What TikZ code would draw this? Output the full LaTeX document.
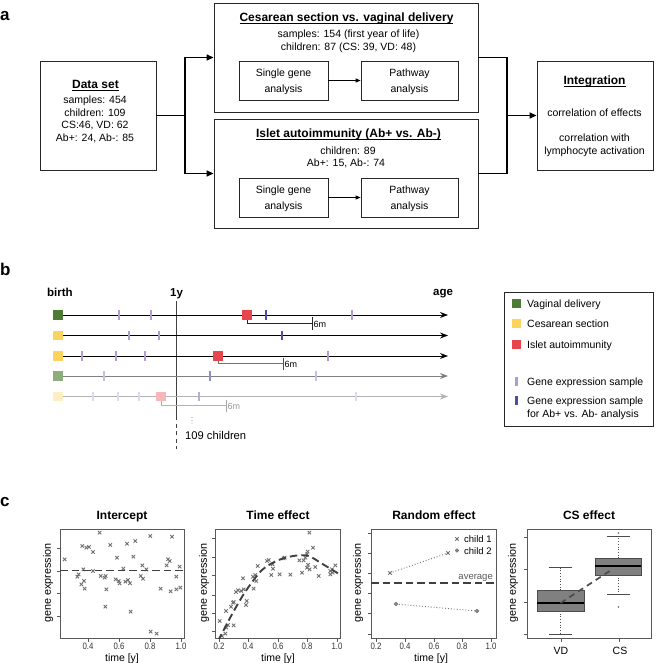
\documentclass[tikz,border=0pt]{standalone}
\usepackage{fontspec}
\setmainfont{Liberation Sans}
\usetikzlibrary{arrows.meta,shadows}
\newcommand\fsz[1]{\fontsize{#1pt}{#1pt}\selectfont}
\newcommand\ulx[1]{{\setbox0\hbox{#1}\rlap{\rule[-2.2pt]{\wd0}{0.8pt}}\box0}}
\definecolor{vdgreen}{HTML}{4D7C34}
\definecolor{csyellow}{HTML}{FDD35E}
\definecolor{iared}{HTML}{E8454A}
\definecolor{gpurple}{HTML}{B19CD1}
\definecolor{gblue}{HTML}{4A4FA0}
\definecolor{lgreen}{HTML}{8DAE7B}
\definecolor{lpurple}{HTML}{CBBDE0}
\definecolor{lblue}{HTML}{8C8FC8}
\definecolor{vlyellow}{HTML}{FDEFC2}
\definecolor{vlpink}{HTML}{F5B7B9}
\definecolor{vlpurple}{HTML}{E0D8EE}
\definecolor{vlblue}{HTML}{B0B2DC}
\definecolor{ptgray}{HTML}{707070}
\tikzset{
  bx/.style={draw=black!85, line width=0.9pt, fill=white, inner sep=0pt,
    drop shadow={shadow xshift=1.4pt, shadow yshift=-1.4pt, opacity=0.35}},
  ibx/.style={draw=black!85, line width=0.8pt, fill=white, inner sep=0pt},
  tx/.style={anchor=base, inner sep=0pt, font=\fsz{10.5}},
  txl/.style={tx, anchor=base west},
  ttl/.style={tx, font=\fsz{12}\bfseries},
  plab/.style={anchor=base west, inner sep=0pt, font=\fsz{17}\bfseries},
  conn/.style={line width=1.4pt, -{Triangle[length=7pt,width=6pt]}},
  cline/.style={line width=1.4pt},
  iconn/.style={line width=0.8pt, -{Triangle[length=5pt,width=4pt]}},
  sq/.style={minimum size=9.5pt, inner sep=0pt, draw=none},
  tk/.style={minimum width=2.8pt, minimum height=9.5pt, inner sep=0pt, draw=none},
  rowline/.style={line width=0.9pt, -{Stealth[length=8pt,width=6pt]}},
  brk/.style={line width=0.8pt},
  axbox/.style={draw=black!65, line width=0.8pt},
  axtk/.style={draw=black!65, line width=0.7pt},
  xm/.style={draw=ptgray, line width=0.9pt},
  dsh/.style={draw=black!75, line width=1.9pt, dash pattern=on 7.5pt off 4pt},
  tick8/.style={anchor=base, inner sep=0pt, font=\fsz{9.3}, xscale=0.84, text=black!80},
  xlab/.style={anchor=base, inner sep=0pt, font=\fsz{10.5}},
  ylab/.style={rotate=90, inner sep=0pt, font=\fsz{10.8}},
  ctitle/.style={anchor=base, inner sep=0pt, font=\fsz{12}\bfseries},
}
\begin{document}
\begin{tikzpicture}[x=1pt,y=-1pt]
\useasboundingbox (0,0) rectangle (658,663);
\fill[white] (0,0) rectangle (658,663);

% ================= panel a =================
\node[plab] (la) at (0,21) {a};

\node[bx, minimum width=116pt, minimum height=109pt] (ds) at (98,115.5) {};
\node[bx, minimum width=264pt, minimum height=109pt] (cs) at (346,57.5) {};
\node[bx, minimum width=264pt, minimum height=109pt] (ia) at (346,173.5) {};
\node[bx, minimum width=116pt, minimum height=109pt] (ig) at (595,115.5) {};

\node[ibx, minimum width=89pt, minimum height=39pt] (sg1) at (283.5,80.5) {};
\node[ibx, minimum width=97pt, minimum height=39pt] (pw1) at (409.5,80.5) {};
\node[ibx, minimum width=89pt, minimum height=39pt] (sg2) at (283.5,197.5) {};
\node[ibx, minimum width=97pt, minimum height=39pt] (pw2) at (409.5,197.5) {};

% Data set text
\node[ttl] (dst) at (95.5,89) {\ulx{Data set}};
\node[tx] (ds1) at (95,104) {samples: 454};
\node[tx] (ds2) at (95,116.5) {children: 109};
\node[tx] (ds3) at (95,129) {CS:46, VD: 62};
\node[tx] (ds4) at (95,141.5) {Ab+: 24, Ab-: 85};

% CS box text
\node[ttl] (cst) at (346.5,21.5) {\ulx{Cesarean section vs. vaginal delivery}};
\node[tx] (cs1) at (348.5,38) {samples: 154 (first year of life)};
\node[tx] (cs2) at (348.5,50.5) {children: 87 (CS: 39, VD: 48)};
\node[tx] (sg1a) at (283.5,77) {Single gene};
\node[tx] (sg1b) at (283.5,93) {analysis};
\node[tx] (pw1a) at (409.5,77) {Pathway};
\node[tx] (pw1b) at (409.5,93) {analysis};

% IA box text
\node[ttl] (iat) at (348.5,138) {\ulx{Islet autoimmunity (Ab+ vs. Ab-)}};
\node[tx] (ia1) at (348,154.5) {children: 89};
\node[tx] (ia2) at (346,167) {Ab+: 15, Ab-: 74};
\node[tx] (sg2a) at (283.5,193.5) {Single gene};
\node[tx] (sg2b) at (283.5,209.5) {analysis};
\node[tx] (pw2a) at (409.5,193.5) {Pathway};
\node[tx] (pw2b) at (409.5,209.5) {analysis};

% Integration text
\node[ttl] (igt) at (594.5,84.5) {\ulx{Integration}};
\node[tx] (ig1) at (594.5,117) {correlation of effects};
\node[tx] (ig2) at (594.5,142) {correlation with};
\node[tx] (ig3) at (594.5,154.5) {lymphocyte activation};

% connectors
\coordinate (j1) at (185,115.5);
\coordinate (j2) at (507,115.5);
\draw[cline] (ds.east) -- (j1);
\draw[conn] (j1) |- (cs.west);
\draw[conn] (j1) |- (ia.west);
\draw[cline] (cs.east) -| (j2) |- (ia.east);
\draw[conn] (j2) -- (ig.west);
\draw[iconn] (sg1.east) -- (pw1.west);
\draw[iconn] (sg2.east) -- (pw2.west);

% ================= panel b =================
\node[plab] (lb) at (0,275) {b};
\node[anchor=base west, inner sep=0pt, font=\fsz{11.5}\bfseries] (birth) at (47,296) {birth};
\node[anchor=base west, inner sep=0pt, font=\fsz{11.5}\bfseries] (oney) at (170,296) {1y};
\node[anchor=base west, inner sep=0pt, font=\fsz{11.5}\bfseries] (age) at (433,295) {age};

% 1y vertical line
\coordinate (v1) at (176,301);
\coordinate (v2) at (176,416);
\coordinate (v3) at (176,449);
\draw[black!75, line width=0.9pt] (v1) -- (v2);
\draw[black!75, line width=1pt, dash pattern=on 4pt off 3.5pt] (v2) -- (v3);

% row end points
\coordinate (e1) at (448,315);
\coordinate (e2) at (448,335.5);
\coordinate (e3) at (448,356);
\coordinate (e4) at (448,376);
\coordinate (e5) at (448,396.5);

\node[sq, fill=vdgreen] (s1) at (58,315) {};
\node[sq, fill=csyellow] (s2) at (58,335.5) {};
\node[sq, fill=csyellow] (s3) at (58,356) {};
\node[sq, fill=lgreen] (s4) at (58,376) {};
\node[sq, fill=vlyellow] (s5) at (58,396.5) {};

\draw[rowline, black] (s1.east) -- (e1);
\draw[rowline, black] (s2.east) -- (e2);
\draw[rowline, black] (s3.east) -- (e3);
\draw[rowline, black!50] (s4.east) -- (e4);
\draw[rowline, black!30] (s5.east) -- (e5);

% row 1
\node[tk, fill=gpurple] (r1a) at (119,315) {};
\node[tk, fill=gpurple] (r1b) at (151,315) {};
\node[sq, fill=iared] (r1r) at (247,315) {};
\node[tk, fill=gblue] (r1c) at (266,315) {};
\node[tk, fill=gpurple] (r1d) at (352,315) {};
\coordinate (b1) at (312,323.3);
\draw[brk, black!85] (r1r.south) |- (b1);
\draw[brk, black!85] (312,317) -- (312,329.5);
\node[anchor=base west, inner sep=0pt, font=\fsz{9}] (m1) at (313.5,327.5) {6m};

% row 2
\node[tk, fill=gpurple] (r2a) at (129,335.5) {};
\node[tk, fill=gpurple] (r2b) at (159,335.5) {};
\node[tk, fill=gblue] (r2c) at (282,335.5) {};

% row 3
\node[tk, fill=gpurple] (r3a) at (82,356) {};
\node[tk, fill=gpurple] (r3b) at (116,356) {};
\node[tk, fill=gpurple] (r3c) at (145,356) {};
\node[sq, fill=iared] (r3r) at (218,356) {};
\node[tk, fill=gpurple] (r3d) at (328,356) {};
\coordinate (b3) at (283,363.3);
\draw[brk, black!55, line width=1pt] (r3r.south) |- (b3);
\draw[brk, black!70] (283,357.5) -- (283,370);
\node[anchor=base west, inner sep=0pt, font=\fsz{9}] (m3) at (284.5,367.5) {6m};

% row 4
\node[tk, fill=lpurple] (r4a) at (104,376) {};
\node[tk, fill=lblue] (r4b) at (210,376) {};
\node[tk, fill=lpurple] (r4c) at (316,376) {};

% row 5
\node[tk, fill=vlpurple] (r5a) at (93,396.5) {};
\node[tk, fill=vlpurple] (r5b) at (118,396.5) {};
\node[tk, fill=vlpurple] (r5c) at (139,396.5) {};
\node[sq, fill=vlpink] (r5r) at (161,396.5) {};
\node[tk, fill=vlblue] (r5d) at (199,396.5) {};
\node[tk, fill=vlpurple] (r5e) at (356,396.5) {};
\coordinate (b5) at (226,405);
\draw[brk, black!30] (r5r.south) |- (b5);
\draw[brk, black!35] (226,399.5) -- (226,411.5);
\node[anchor=base west, inner sep=0pt, font=\fsz{9}, text=black!40] (m5) at (227.5,409.5) {6m};

% dots and 109 children
\fill[black!40] (192,417.5) circle (0.55pt) (192,420.3) circle (0.55pt) (192,423.1) circle (0.55pt);
\node[anchor=base west, inner sep=0pt, font=\fsz{11.2}] (n109) at (185,439) {109 children};

% legend
\node[bx, minimum width=149pt, minimum height=134pt] (lg) at (578.5,359) {};
\node[sq, minimum size=9pt, fill=vdgreen] (lg1) at (516.5,303) {};
\node[sq, minimum size=9pt, fill=csyellow] (lg2) at (516.5,323.5) {};
\node[sq, minimum size=9pt, fill=iared] (lg3) at (516.5,344) {};
\node[tk, minimum height=9pt, fill=gpurple] (lg4) at (516.5,381) {};
\node[tk, minimum height=9pt, fill=gblue] (lg5) at (516.5,400.5) {};
\node[txl] (lgt1) at (527,307) {Vaginal delivery};
\node[txl] (lgt2) at (527,327.5) {Cesarean section};
\node[txl] (lgt3) at (527,348) {Islet autoimmunity};
\node[txl] (lgt4) at (527,385) {Gene expression sample};
\node[txl] (lgt5) at (527,404.5) {Gene expression sample};
\node[txl] (lgt6) at (527,417) {for Ab+ vs. Ab- analysis};

% ================= panel c =================
\node[plab] (lc) at (0,506) {c};

% ---- plot 1: Intercept
\node[ctitle] (t1) at (122,519) {Intercept};
\draw[axbox] (60,529) rectangle (184,638);
\foreach \yy in {548,571,593,616} \draw[axtk] (60,\yy) -- (56.5,\yy);
\foreach \xx/\lab in {88/0.4,119/0.6,150/0.8,181/1.0} {
  \draw[axtk] (\xx,638) -- (\xx,641.5);
  \node[tick8] at (\xx,649.3) {\lab};
}
\node[xlab] (xl1) at (122,661.5) {time [y]};
\node[ylab] (yl1) at (48,583) {gene expression};
\begin{scope}[shift={(58pt,-526pt)}, x=0.3333pt, y=-0.3333pt]
\foreach \a/\b in {20/100,125/20,73/60,85/65,93/63,105/78,157/57,207/53,232/45,277/30,342/32,177/95,226/92,62/145,58/152,76/130,105/135,78/165,70/175,80/188,128/150,140/155,143/150,145/190,173/160,182/165,185/172,196/128,202/167,210/162,216/172,248/150,255/158,253/118,265/130,330/100,335/105,326/118,365/122,355/152,308/188,338/196,355/190,367/185,142/242,218/257,278/317,296/323}
  \draw[xm] (\a,\b) +(-1.7pt,-1.7pt) -- +(1.7pt,1.7pt) +(-1.7pt,1.7pt) -- +(1.7pt,-1.7pt);
\end{scope}
\draw[dsh] (60,570.5) -- (184,570.5);

% ---- plot 2: Time effect
\node[ctitle] (t2) at (278,519) {Time effect};
\draw[axbox] (215,529) rectangle (340,638);
\foreach \yy in {538,557,575,595,613,631} \draw[axtk] (215,\yy) -- (211.5,\yy);
\foreach \xx/\lab in {219/0.2,248/0.4,278/0.6,307/0.8,337/1.0} {
  \draw[axtk] (\xx,638) -- (\xx,641.5);
  \node[tick8] at (\xx,649.3) {\lab};
}
\node[xlab] (xl2) at (278,661.5) {time [y]};
\node[ylab] (yl2) at (204,583) {gene expression};
\begin{scope}[shift={(212pt,-526pt)}, x=0.3333pt, y=-0.3333pt]
\foreach \a/\b in {23/285,40/323,43/305,48/297,42/255,65/298,57/242,63/230,65/228,72/198,78/193,88/195,95/190,93/157,102/237,104/225,125/188,123/152,130/147,133/165,137/120,165/105,170/102,178/147,183/128,182/115,203/145,215/97,218/95,235/146,262/103,270/140,275/103,280/95,285/85,287/77,292/20,288/116,293/130,285/125,303/65,310/123,320/150,355/145,355/135,360/130,362/140,370/118,30/330}
  \draw[xm] (\a,\b) +(-1.7pt,-1.7pt) -- +(1.7pt,1.7pt) +(-1.7pt,1.7pt) -- +(1.7pt,-1.7pt);
\end{scope}
\begin{scope}
\clip (215,529) rectangle (340,638);
\begin{scope}[shift={(212pt,-526pt)}, x=0.3333pt, y=-0.3333pt]
\draw[dsh] plot[smooth] coordinates {(18,345) (60,265) (100,197) (150,132) (200,102) (250,89) (290,90) (330,113) (378,142)};
\end{scope}
\end{scope}

% ---- plot 3: Random effect
\node[ctitle] (t3) at (434,519) {Random effect};
\draw[axbox] (371,529) rectangle (496,638);
\foreach \yy in {533,553,573,593,613,634} \draw[axtk] (371,\yy) -- (367.5,\yy);
\foreach \xx/\lab in {376/0.2,405/0.4,434/0.6,462/0.8,491/1.0} {
  \draw[axtk] (\xx,638) -- (\xx,641.5);
  \node[tick8] at (\xx,649.3) {\lab};
}
\node[xlab] (xl3) at (431,661.5) {time [y]};
\node[ylab] (yl3) at (358,583) {gene expression};
\coordinate (c1a) at (390,573);
\coordinate (c1b) at (448,553);
\coordinate (c2a) at (396,604);
\coordinate (c2b) at (477,611);
\coordinate (lgx) at (457,539);
\coordinate (lgo) at (457,550.5);
\draw[ptgray, line width=0.9pt, dotted] (c1a) -- (c1b);
\draw[ptgray, line width=0.9pt, dotted] (c2a) -- (c2b);
\foreach \p in {c1a,c1b,lgx}
  \draw[xm] (\p) +(-1.7pt,-1.7pt) -- +(1.7pt,1.7pt) +(-1.7pt,1.7pt) -- +(1.7pt,-1.7pt);
\foreach \p in {c2a,c2b,lgo}
  \draw[ptgray, fill=black!45, line width=0.6pt] (\p) circle (1.8pt);
\node[anchor=base west, inner sep=0pt, font=\fsz{9.5}] (lc1) at (464,542.5) {child 1};
\node[anchor=base west, inner sep=0pt, font=\fsz{9.5}] (lc2) at (464,554) {child 2};
\draw[dsh] (371,583) -- (496,583);
\node[anchor=base east, inner sep=0pt, font=\fsz{9.5}, text=black!65] (avg) at (493,579.5) {average};

% ---- plot 4: CS effect
\node[ctitle] (t4) at (589,519) {CS effect};
\draw[axbox] (527,529) rectangle (651,638);
\foreach \yy in {537,569,602,634} \draw[axtk] (527,\yy) -- (523.5,\yy);
\foreach \xx in {561,619} \draw[axtk] (\xx,638) -- (\xx,641.5);
\node[anchor=base, inner sep=0pt, font=\fsz{10.5}] (vd) at (561,654) {VD};
\node[anchor=base, inner sep=0pt, font=\fsz{10.5}] (csl) at (620,654) {CS};
\node[ylab] (yl4) at (513,583) {gene expression};
% VD box
\draw[black!70, line width=0.7pt, dotted] (560,590) -- (560,567);
\draw[black!70, line width=0.7pt, dotted] (560,611) -- (560,634);
\draw[black!70, line width=0.7pt] (549,567) -- (572,567);
\draw[black!70, line width=0.7pt] (549,634) -- (572,634);
\node[draw=black!70, fill=black!50, line width=0.7pt, inner sep=0pt, minimum width=47pt, minimum height=21pt] (vdb) at (560.5,600.5) {};
\draw[black, line width=1.6pt] (537,603) -- (584,603);
% CS box
\draw[black!70, line width=0.7pt, dotted] (618.5,558) -- (618.5,536);
\draw[black!70, line width=0.7pt, dotted] (618.5,575) -- (618.5,594);
\draw[black!70, line width=0.7pt] (607,536) -- (630,536);
\draw[black!70, line width=0.7pt] (607,594) -- (630,594);
\node[draw=black!70, fill=black!50, line width=0.7pt, inner sep=0pt, minimum width=46pt, minimum height=17pt] (csb) at (618,566.5) {};
\draw[black, line width=1.6pt] (595,566) -- (641,566);
\fill[black!60] (618.5,607) circle (0.9pt);
\fill[black!60] (618.5,533) circle (0.8pt);
\coordinate (vdm) at (560.5,603);
\coordinate (csm) at (612,569.5);
\draw[black!70, line width=1.7pt, dash pattern=on 6pt off 4.5pt] (vdm) -- (csm);

\end{tikzpicture}
\end{document}
